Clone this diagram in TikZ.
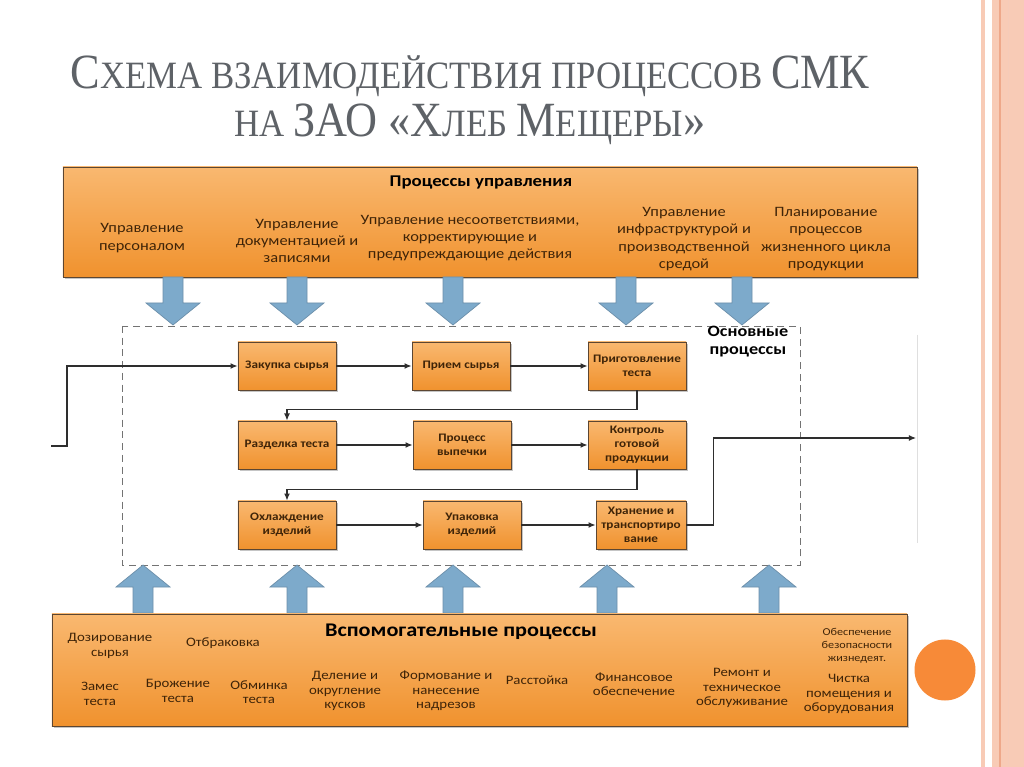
\documentclass[tikz,border=0pt]{standalone}
\usepackage{fontspec}
\setmainfont{Carlito}[FakeStretch=1.15]
\newfontfamily\titlefont{Liberation Serif}
\usetikzlibrary{arrows.meta, shadows}
\definecolor{orangetop}{HTML}{F9B870}
\definecolor{orangemid}{HTML}{F7A850}
\definecolor{orangebot}{HTML}{F0922E}
\definecolor{boxedge}{HTML}{5C4632}
\definecolor{arrowblue}{HTML}{7DAACB}
\definecolor{arrowedge}{HTML}{6C8FAA}
\definecolor{titlegray}{HTML}{5E6267}
\definecolor{boxtext}{HTML}{3F2408}
\definecolor{circleorange}{HTML}{F78A38}
\definecolor{stripe}{HTML}{F8CBB6}
\definecolor{stripedark}{HTML}{EEA88A}
\definecolor{linegray}{HTML}{2E2E2E}
\tikzset{bigbox/.style={draw=boxedge, line width=0.8pt, top color=orangetop, middle color=orangemid, bottom color=orangebot,
           drop shadow={shadow xshift=2pt, shadow yshift=-2pt, opacity=0.45}},
         proc/.style={draw=boxedge, line width=0.8pt, top color=orangetop, bottom color=orangebot,
           drop shadow={shadow xshift=1.5pt, shadow yshift=-1.5pt, opacity=0.45},
           minimum width=2.94cm, minimum height=1.44cm, align=center, text=boxtext,
           font=\bfseries\fontsize{9.8}{11.8}\selectfont, inner sep=1pt},
         item/.style={align=center, text=boxtext, inner sep=0pt, font=\fontsize{12.2}{14.8}\selectfont},
         subitem/.style={align=center, text=boxtext, inner sep=0pt, font=\fontsize{11}{12.2}\selectfont},
         heading/.style={text=black, inner sep=0pt, font=\bfseries\fontsize{14}{16}\selectfont},
         flow/.style={draw=linegray, line width=0.9pt, ->},
         bluearrow/.style={fill=arrowblue, draw=arrowedge, line width=0.6pt},
         titletext/.style={text=titlegray, inner sep=0pt, font=\titlefont}}
\newcommand{\tbig}[1]{{\fontsize{42}{42}\selectfont #1}}
\newcommand{\tsml}[1]{{\fontsize{33}{33}\selectfont #1}}

\begin{document}
\begin{tikzpicture}[x=0.03cm, y=-0.03cm, >={Latex[length=6pt,width=5pt]}]
  \useasboundingbox (0,0) rectangle (1024,767);
  \fill[white] (0,0) rectangle (1024,767);

  % page border stripes
  \fill[stripe] (981,0) rectangle (985,767);
  \fill[stripe] (992,0) rectangle (1024,767);
  \draw[stripedark, line width=1.2pt] (1000,0) -- (1000,767);
  \draw[stripedark!60, line width=0.8pt] (1008,0) -- (1008,767);

  % title
  \node[titletext] (title1) at (470,76) {\scalebox{0.9}[1]{\tbig{С}\tsml{ХЕМА ВЗАИМОДЕЙСТВИЯ ПРОЦЕССОВ }\tbig{СМК}}};
  \node[titletext] (title2) at (470,124) {\scalebox{0.9}[1]{\tsml{НА }\tbig{ЗАО «Х}\tsml{ЛЕБ }\tbig{М}\tsml{ЕЩЕРЫ}\tbig{»}}};

  % management processes
  \node[bigbox, minimum width=25.62cm, minimum height=3.3cm] (upr) at (490,222) {};
  \node[heading] (uprhead) at (481,183) {Процессы управления};
  \node[item] (u1) at (142,238) {Управление\\персоналом};
  \node[item] (u2) at (297,241) {Управление\\документацией и\\записями};
  \node[item] (u3) at (470,238) {Управление несоответствиями,\\корректирующие и\\предупреждающие действия};
  \node[item] (u4) at (684,239) {Управление\\инфраструктурой и\\производственной\\средой};
  \node[item] (u5) at (826,239) {Планирование\\процессов\\жизненного цикла\\продукции};

  \foreach \c in {173,297,453,626,742}
    \draw[bluearrow] ({\c-10},277) -- ({\c-10},303) -- ({\c-27},303) -- (\c,325)
      -- ({\c+27},303) -- ({\c+10},303) -- ({\c+10},277) -- cycle;

  % main processes
  \draw[gray!90!black, line width=0.8pt, dash pattern=on 6pt off 4pt] (122,326) rectangle (800,565);
  \node[heading, align=center, font=\bfseries\fontsize{13.5}{15.5}\selectfont] (osn) at (748,342) {Основные\\процессы};

  \node[proc] (zak) at (287,366) {Закупка сырья};
  \node[proc] (priem) at (461,366) {Прием сырья};
  \node[proc] (prig) at (637,366) {Приготовление\\теста};
  \node[proc] (razd) at (287,445) {Разделка теста};
  \node[proc] (vyp) at (462,445) {Процесс\\выпечки};
  \node[proc] (kontr) at (637,445) {Контроль\\готовой\\продукции};
  \node[proc] (ohl) at (287,525) {Охлаждение\\изделий};
  \node[proc] (upak) at (472,525) {Упаковка\\изделий};
  \node[proc, minimum width=2.7cm] (hran) at (641,525) {Хранение и\\транспортиро\\вание};

  \coordinate (vhod) at (51,446);
  \coordinate (vyhod) at (916,438);
  \draw[gray!25, line width=0.6pt] (917,335) -- (917,543);

  \draw[flow] (vhod) -- ++(16,0) |- (zak);
  \draw[flow] (zak) -- (priem);
  \draw[flow] (priem) -- (prig);
  \draw[flow] (prig.south) -- ++(0,19) -| (razd.north);
  \draw[flow] (razd) -- (vyp);
  \draw[flow] (vyp) -- (kontr);
  \draw[flow] (kontr.south) -- ++(0,20) -| (ohl.north);
  \draw[flow] (ohl) -- (upak);
  \draw[flow] (upak) -- (hran);
  \draw[flow] (hran.east) -- ++(27,0) |- (vyhod);

  \foreach \c in {143,297,453,607,769}
    \draw[bluearrow] ({\c-10},613) -- ({\c-10},587) -- ({\c-27},587) -- (\c,565)
      -- ({\c+27},587) -- ({\c+10},587) -- ({\c+10},613) -- cycle;

  % support processes
  \node[bigbox, minimum width=25.65cm, minimum height=3.36cm] (vsp) at (479.5,670) {};
  \node[heading, font=\bfseries\fontsize{16.5}{18}\selectfont] (vsphead) at (461,632) {Вспомогательные процессы};
  \node[subitem] (s1) at (110,646) {Дозирование\\сырья};
  \node[subitem] (s2) at (223,643) {Отбраковка};
  \node[subitem] (s3) at (100,694) {Замес\\теста};
  \node[subitem] (s4) at (178,691) {Брожение\\теста};
  \node[subitem] (s5) at (259,692) {Обминка\\теста};
  \node[subitem] (s6) at (345,691) {Деление и\\округление\\кусков};
  \node[subitem] (s7) at (446,691) {Формование и\\нанесение\\надрезов};
  \node[subitem] (s8) at (537,680) {Расстойка};
  \node[subitem] (s9) at (634,684) {Финансовое\\обеспечение};
  \node[subitem] (s10) at (742,688) {Ремонт и\\техническое\\обслуживание};
  \node[subitem, font=\fontsize{9}{11}\selectfont] (s11) at (857,646) {Обеспечение\\безопасности\\жизнедеят.};
  \node[subitem] (s12) at (849,694) {Чистка\\помещения и\\оборудования};

  \node[circle, fill=circleorange, minimum size=1.83cm, inner sep=0pt] (dot) at (945,670) {};
\end{tikzpicture}
\end{document}
